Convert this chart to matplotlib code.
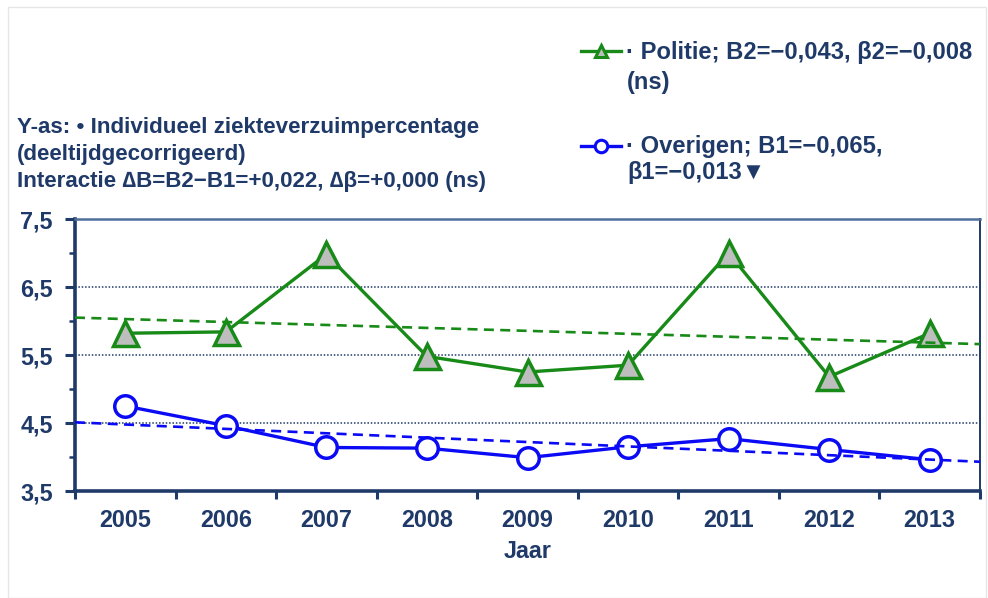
import matplotlib
matplotlib.use("Agg")
import matplotlib.pyplot as plt
from matplotlib.lines import Line2D
from matplotlib.patches import Rectangle
import numpy as np

plt.rcParams['font.family'] = ['Liberation Sans', 'DejaVu Sans']
plt.rcParams['font.weight'] = 'bold'

years = ['2005', '2006', '2007', '2008', '2009', '2010', '2011', '2012', '2013']
politie = [5.82, 5.84, 6.98, 5.48, 5.25, 5.35, 7.00, 5.18, 5.82]
overigen = [4.75, 4.46, 4.14, 4.13, 3.99, 4.15, 4.27, 4.11, 3.96]
trend_politie = [6.05, 5.66]   # values at left and right edge of plot
trend_overigen = [4.51, 3.93]
yticks = [3.5, 4.5, 5.5, 6.5, 7.5]
ytick_labels = ['3,5', '4,5', '5,5', '6,5', '7,5']

NAVY = '#1F3A68'
GREEN = '#178A17'
BLUE = '#0A0AF5'
FS = 16.8

fig = plt.figure(figsize=(9.88, 5.98), dpi=100)
fig.patches.append(Rectangle((0.008, 0.0), 0.99, 0.988, transform=fig.transFigure,
                             fill=False, edgecolor='#E6E6E6', linewidth=1.0))
ax = fig.add_axes([75/988, 1-491/598, (980-75)/988, (491-219)/598])

x = np.arange(1, len(years) + 1)
xl = [0.5, len(years) + 0.5]

for yv in [4.5, 5.5, 6.5]:
    ax.axhline(yv, color=NAVY, linestyle=(0, (1, 1.2)), linewidth=1.1, zorder=1)

ax.plot(x, politie, color=GREEN, linewidth=2.4, marker='^', markersize=18,
        markerfacecolor='#BEBEBE', markeredgecolor=GREEN, markeredgewidth=2.5, zorder=3)
ax.plot(x, overigen, color=BLUE, linewidth=2.4, marker='o', markersize=15.5,
        markerfacecolor='white', markeredgecolor=BLUE, markeredgewidth=2.5, zorder=3)
ax.plot(xl, trend_politie, color=GREEN, linewidth=1.9, linestyle=(0, (3.8, 2.4)), zorder=4)
ax.plot(xl, trend_overigen, color=BLUE, linewidth=1.9, linestyle=(0, (3.8, 2.4)), zorder=4)

ax.set_xlim(xl)
ax.set_ylim(3.5, 7.5)
ax.set_yticks(yticks)
ax.set_yticklabels(ytick_labels)
ax.set_yticks([4.0, 5.0, 6.0, 7.0], minor=True)
ax.set_xticks(np.arange(0.5, len(years) + 1.0, 1.0))
ax.set_xticklabels([])
ax.set_xticks(x, minor=True)
ax.set_xticklabels(years, minor=True)
ax.tick_params(axis='x', which='major', length=6, width=2.2, color=NAVY, direction='out')
ax.tick_params(axis='x', which='minor', length=0, pad=13, labelsize=FS, labelcolor=NAVY)
ax.tick_params(axis='y', which='major', length=7, width=2.2, color=NAVY, pad=9,
               labelsize=FS, labelcolor=NAVY)
ax.tick_params(axis='y', which='minor', length=4, width=1.8, color=NAVY)
for lbl in ax.get_xticklabels(minor=True) + ax.get_yticklabels():
    lbl.set_fontweight('bold')

ax.spines['left'].set_linewidth(2.6)
ax.spines['left'].set_color(NAVY)
ax.spines['bottom'].set_linewidth(2.6)
ax.spines['bottom'].set_color(NAVY)
ax.spines['top'].set_linewidth(1.8)
ax.spines['top'].set_color('#4F6F9A')
ax.spines['right'].set_linewidth(1.4)
ax.spines['right'].set_color(NAVY)

ax.set_xlabel('Jaar', fontsize=FS, color=NAVY, fontweight='bold', labelpad=6)

left_lines = ['Y-as: • Individueel ziekteverzuimpercentage',
              '(deeltijdgecorrigeerd)',
              'Interactie \u2206B=B2\u2212B1=+0,022, \u2206\u03b2=+0,000 (ns)']
for ypx, s in zip([128, 155, 181], left_lines):
    fig.text(17/988, 1-ypx/598, s, fontsize=16.1, color=NAVY, fontweight='bold',
             va='center', ha='left')

# legend
def handle(y, color, marker, mfc):
    fig.add_artist(Line2D([581/988, 621/988], [1-y/598, 1-y/598], transform=fig.transFigure,
                          color=color, linewidth=2.4))
    fig.add_artist(Line2D([601/988], [1-y/598], transform=fig.transFigure, color=color,
                          marker=marker, markersize=9, markerfacecolor=mfc,
                          markeredgecolor=color, markeredgewidth=2.2, linestyle='none'))

LFS = 17.1
handle(51, GREEN, '^', '#BEBEBE')
handle(146, BLUE, 'o', 'white')
fig.text(626/988, 1-52/598, '· Politie; B2=\u22120,043, \u03b22=\u22120,008',
         fontsize=LFS, color=NAVY, fontweight='bold', va='center', ha='left')
fig.text(627/988, 1-82/598, '(ns)',
         fontsize=LFS, color=NAVY, fontweight='bold', va='center', ha='left')
fig.text(626/988, 1-147/598, '· Overigen; B1=\u22120,065,',
         fontsize=LFS, color=NAVY, fontweight='bold', va='center', ha='left')
fig.text(627/988, 1-173/598, '\u03b21=\u22120,013\u25bc',
         fontsize=LFS, color=NAVY, fontweight='bold', va='center', ha='left')

fig.savefig('out.png', dpi=100)
